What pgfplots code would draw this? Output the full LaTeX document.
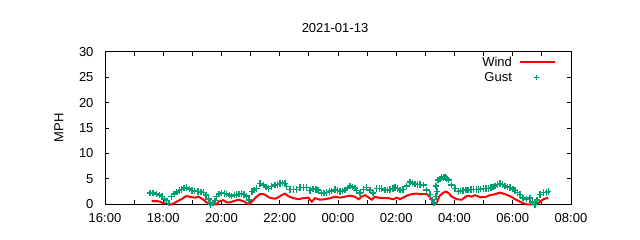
\documentclass[border=0pt]{standalone}
\usepackage{fontspec}
\setmainfont{Liberation Sans}
\usepackage{pgfplots}
\pgfplotsset{compat=1.18}
\definecolor{windred}{RGB}{255,0,0}
\definecolor{gustgreen}{RGB}{0,158,115}
\pgfplotsset{
  windleg/.style={legend image code/.code={\path[draw=none,fill=none] (0bp,-0.5bp) rectangle (41bp,0.5bp); \draw[##1] (6bp,0bp) -- (41bp,0bp);}},
  gustleg/.style={legend image code/.code={\path[draw=none,fill=none] (0bp,-0.5bp) rectangle (41bp,0.5bp); \draw[##1,mark size=2.5bp,line width=0.9bp] plot coordinates {(23bp,0bp)};}},
}
\begin{document}
\fontsize{13bp}{15bp}\selectfont
\begin{tikzpicture}
\path[use as bounding box] (-105bp,-35.7bp) rectangle (535bp,204.3bp);
\begin{axis}[
  at={(0,0)}, anchor=south west,
  scale only axis, width=466bp, height=152.6bp,
  xmin=0, xmax=16, ymin=0, ymax=30,
  xtick={0,2,...,16},
  xticklabels={16:00,18:00,20:00,22:00,00:00,02:00,04:00,06:00,08:00},
  minor x tick num=1,
  ytick={0,5,...,30},
  major tick length=4bp, minor tick length=4bp,
  tick style={black, line width=0.8bp},
  axis line style={line width=0.8bp},
  /pgf/number format/assume math mode=true,
  yticklabel style={xshift=-7bp},
  xticklabel style={yshift=-5bp},
  clip=false,
  legend style={draw=none, fill=none, at={(rel axis cs:0.968,0.982)}, anchor=north east,
    inner sep=0pt, row sep=0bp, font=\fontsize{13bp}{15bp}\selectfont},
  legend plot pos=right,
  legend cell align=right,
]
\addplot[windred, line width=2bp, mark=none, windleg] coordinates {
(1.6,0.6)(1.7,0.6)(1.8,0.6)(1.9,0.5)(1.98,0.2)(2.1,0.2)(2.2,0.0)(2.3,0.0)(2.4,0.3)(2.46,0.5)
(2.55,0.8)(2.63,1.0)(2.75,1.5)(2.8,1.6)(2.9,1.5)(2.98,1.4)(3.1,1.3)(3.2,1.5)(3.3,1.2)(3.38,0.9)
(3.48,0.4)(3.6,0.0)(3.83,0.0)(3.92,0.6)(4.0,0.7)(4.06,0.8)(4.18,0.4)(4.3,0.4)(4.4,0.6)(4.52,0.8)
(4.6,0.9)(4.69,0.7)(4.8,0.5)(4.86,0.2)(4.94,0.0)(5.04,0.5)(5.15,1.2)(5.21,1.5)(5.32,2.0)(5.44,2.0)
(5.52,1.8)(5.61,1.4)(5.72,1.2)(5.84,1.1)(5.93,1.3)(6.01,1.6)(6.1,1.9)(6.18,2.1)(6.29,1.6)(6.47,1.2)
(6.64,1.0)(6.81,1.2)(6.98,1.3)(7.1,0.5)(7.21,1.2)(7.38,0.9)(7.55,1.0)(7.73,1.2)(7.9,1.5)(8.07,1.3)
(8.24,1.5)(8.41,1.7)(8.58,1.5)(8.7,1.0)(8.81,1.5)(8.93,1.8)(9.04,1.4)(9.16,0.9)(9.27,1.5)(9.38,1.3)
(9.56,1.2)(9.73,1.2)(9.9,1.0)(10.02,1.3)(10.13,1.0)(10.3,1.5)(10.41,1.8)(10.53,2.0)(10.7,2.1)(10.87,2.0)
(11.04,2.0)(11.1,1.8)(11.22,0.9)(11.3,0.0)(11.39,0.3)(11.48,1.6)(11.62,2.3)(11.71,2.5)(11.82,2.1)(11.9,1.5)
(12.08,1.0)(12.25,0.9)(12.36,1.4)(12.47,1.7)(12.59,1.5)(12.7,1.8)(12.88,1.4)(13.05,1.4)(13.22,1.8)(13.39,2.0)
(13.56,2.3)(13.73,2.0)(13.91,1.6)(14.08,1.0)(14.25,0.5)(14.36,0.2)(14.48,0.0)(14.82,0.0)(14.94,0.5)(15.05,1.0)
(15.22,1.3)
};
\addlegendentry{Wind}
\addplot[gustgreen, only marks, mark=+, mark size=3.2bp, line width=1.5bp, gustleg] coordinates {
(1.55,2.2)(1.65,2.2)(1.77,2.0)(1.87,1.8)(1.95,1.5)(2.05,1.0)(2.12,0.7)(2.2,0.2)(2.29,1.5)(2.38,2.0)
(2.46,2.4)(2.55,2.7)(2.63,2.9)(2.72,3.2)(2.8,3.3)(2.9,3.0)(2.98,2.7)(3.08,2.6)(3.2,2.5)(3.3,2.4)
(3.38,2.3)(3.47,1.8)(3.55,1.0)(3.6,0.2)(3.63,0.0)(3.7,0.3)(3.78,0.7)(3.83,1.5)(3.92,2.0)(4.0,2.2)
(4.1,2.1)(4.18,2.0)(4.27,1.8)(4.35,1.6)(4.44,1.8)(4.52,1.9)(4.6,2.0)(4.69,2.1)(4.78,1.9)(4.86,1.6)
(4.94,0.8)(5.04,2.5)(5.12,2.8)(5.21,3.1)(5.32,4.1)(5.44,3.8)(5.52,3.4)(5.61,3.1)(5.72,3.5)(5.84,3.8)
(5.93,3.9)(6.01,4.1)(6.1,4.2)(6.18,4.1)(6.24,3.5)(6.35,2.9)(6.47,2.9)(6.58,2.9)(6.7,3.3)(6.81,3.3)
(6.92,3.3)(7.04,2.7)(7.15,3.0)(7.25,2.9)(7.32,2.8)(7.44,2.2)(7.52,2.2)(7.61,2.3)(7.7,2.5)(7.78,2.6)
(7.9,2.9)(7.98,2.7)(8.07,2.5)(8.15,2.6)(8.24,2.8)(8.32,3.2)(8.41,3.6)(8.5,3.4)(8.58,3.2)(8.64,2.7)
(8.76,2.2)(8.87,2.9)(8.98,3.3)(9.1,2.8)(9.21,2.2)(9.33,3.1)(9.42,3.1)(9.5,3.1)(9.61,2.8)(9.7,2.8)
(9.79,2.9)(9.88,3.1)(9.96,3.3)(10.05,3.1)(10.13,2.8)(10.24,2.9)(10.36,3.6)(10.47,4.4)(10.56,4.2)(10.64,4.0)
(10.73,3.9)(10.82,3.9)(10.93,3.8)(11.04,2.8)(11.16,1.9)(11.25,0.9)(11.3,0.3)(11.36,1.5)(11.37,3.6)(11.4,2.5)
(11.44,4.8)(11.5,5.0)(11.56,5.3)(11.62,5.3)(11.67,5.4)(11.73,5.1)(11.79,4.8)(11.9,3.8)(12.02,3.1)(12.13,2.5)
(12.2,2.6)(12.3,2.7)(12.4,2.8)(12.47,2.8)(12.56,2.9)(12.65,2.9)(12.75,2.9)(12.82,2.9)(12.9,3.0)(12.99,3.1)
(13.08,3.1)(13.16,3.1)(13.25,3.3)(13.33,3.4)(13.39,3.6)(13.47,3.9)(13.56,4.1)(13.65,3.9)(13.73,3.6)(13.82,3.4)
(13.91,3.3)(14.0,3.0)(14.08,2.7)(14.17,2.3)(14.25,1.9)(14.36,1.2)(14.48,1.0)(14.59,1.2)(14.68,0.5)(14.76,0.0)
(14.84,0.8)(14.94,1.9)(15.05,2.3)(15.16,2.3)(15.22,2.5)
};
\addlegendentry{Gust}
\end{axis}
\node[anchor=base] at (230bp,172bp) {2021-01-13};
\node[rotate=90] at (-46bp,76.3bp) {MPH};
\end{tikzpicture}
\end{document}
